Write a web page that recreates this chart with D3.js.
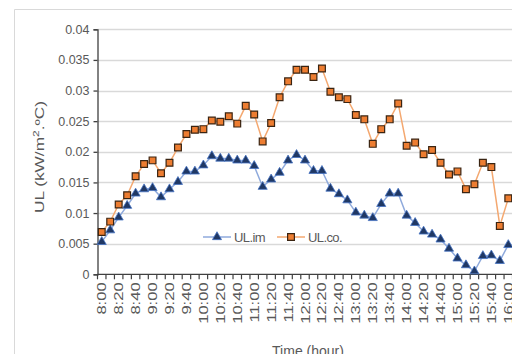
<!DOCTYPE html>
<html>
<head>
<meta charset="utf-8">
<script src="https://cdn.jsdelivr.net/npm/d3@7"></script>
<style>
  html, body { margin: 0; padding: 0; background: #fff; }
  svg { display: block; }
  text { font-family: "Liberation Sans", Arial, sans-serif; fill: #595959; }
</style>
</head>
<body>
<svg id="chart" width="512" height="354"></svg>
<script>
// Time of day, one reading every 10 minutes
const times = [
  "8:00","8:10","8:20","8:30","8:40","8:50","9:00","9:10","9:20","9:30","9:40","9:50",
  "10:00","10:10","10:20","10:30","10:40","10:50","11:00","11:10","11:20","11:30","11:40","11:50",
  "12:00","12:10","12:20","12:30","12:40","12:50","13:00","13:10","13:20","13:30","13:40","13:50",
  "14:00","14:10","14:20","14:30","14:40","14:50","15:00","15:10","15:20","15:30","15:40","15:50",
  "16:00"
];

// Heat loss coefficient, kW/m².ºC
const ulIm = [
  0.0053, 0.0072, 0.0093, 0.0112, 0.0132, 0.0139, 0.0141, 0.0126, 0.0139, 0.0151, 0.0168, 0.0168,
  0.0178, 0.0193, 0.0189, 0.0189, 0.0186, 0.0186, 0.0177, 0.0143, 0.0155, 0.0166, 0.0186, 0.0195,
  0.0186, 0.0169, 0.0169, 0.0140, 0.0131, 0.0121, 0.0101, 0.0096, 0.0092, 0.0115, 0.0132, 0.0132,
  0.0096, 0.0084, 0.0070, 0.0065, 0.0057, 0.0042, 0.0026, 0.0015, 0.0005, 0.0030, 0.0031, 0.0022,
  0.0048
];
const ulCo = [
  0.0069, 0.0086, 0.0114, 0.0129, 0.0160, 0.0180, 0.0186, 0.0165, 0.0182, 0.0207, 0.0229, 0.0236,
  0.0237, 0.0251, 0.0249, 0.0258, 0.0246, 0.0275, 0.0261, 0.0217, 0.0247, 0.0289, 0.0315, 0.0334,
  0.0334, 0.0322, 0.0336, 0.0298, 0.0289, 0.0286, 0.0260, 0.0253, 0.0213, 0.0237, 0.0253, 0.0279,
  0.0210, 0.0215, 0.0196, 0.0203, 0.0182, 0.0163, 0.0168, 0.0139, 0.0147, 0.0182, 0.0175, 0.0079,
  0.0124
];

const yTicks = [0, 0.005, 0.01, 0.015, 0.02, 0.025, 0.03, 0.035, 0.04];
const yTickLabels = ["0", "0.005", "0.01", "0.015", "0.02", "0.025", "0.03", "0.035", "0.04"];

const seriesNames = ["UL.im", "UL.co."];

const svg = d3.select("#chart");

const plot = { left: 97.5, top: 29.3, bottom: 274.3 };
const band = 8.47;
// vertical text is drawn a little elongated
const vStretch = 1.33;

const x = d3.scaleBand()
  .domain(times)
  .range([plot.left, plot.left + band * times.length])
  .padding(0);

const y = d3.scaleLinear()
  .domain([0, 0.04])
  .range([plot.bottom, plot.top]);

const cx = t => x(t) + x.bandwidth() / 2;

// Outer chart frame
svg.append("path")
  .attr("d", "M14.5,354 V9.5 H512")
  .attr("fill", "none")
  .attr("stroke", "#d9d9d9")
  .attr("stroke-width", 1);

// Horizontal gridlines
svg.append("g")
  .selectAll("line")
  .data(yTicks.slice(1))
  .join("line")
  .attr("x1", plot.left)
  .attr("x2", 512)
  .attr("y1", d => Math.round(y(d)) + 0.5)
  .attr("y2", d => Math.round(y(d)) + 0.5)
  .attr("stroke", "#d9d9d9")
  .attr("stroke-width", 1.3);

// Y axis
const yAxis = svg.append("g")
  .attr("transform", `translate(${plot.left},0)`)
  .call(d3.axisLeft(y)
    .tickValues(yTicks)
    .tickFormat((d, i) => yTickLabels[i])
    .tickSize(4)
    .tickPadding(4));
yAxis.select(".domain").attr("stroke", "#404040").attr("stroke-width", 1.3);
yAxis.selectAll(".tick line").attr("stroke", "#404040").attr("stroke-width", 1.3);
yAxis.selectAll(".tick text")
  .attr("font-size", "12.5px")
  .attr("fill", "#595959")
  .style("font-family", "'Liberation Sans', Arial, sans-serif");

// X axis: ticks between categories, label every 20 minutes
const xAxisG = svg.append("g").attr("transform", `translate(0,${plot.bottom})`);
xAxisG.append("line")
  .attr("x1", plot.left).attr("x2", 512)
  .attr("y1", 0).attr("y2", 0)
  .attr("stroke", "#404040").attr("stroke-width", 1.3);
xAxisG.selectAll("line.tk")
  .data(times.concat([null]))
  .join("line")
  .attr("class", "tk")
  .attr("x1", (d, i) => plot.left + i * x.step())
  .attr("x2", (d, i) => plot.left + i * x.step())
  .attr("y1", 0).attr("y2", 5)
  .attr("stroke", "#404040").attr("stroke-width", 1.2);
xAxisG.selectAll("text")
  .data(times.filter((d, i) => i % 2 === 0))
  .join("text")
  .attr("transform", d => `translate(${cx(d) + 4.5},${8}) rotate(-90) scale(${vStretch},1)`)
  .attr("text-anchor", "end")
  .attr("font-size", "12.5px")
  .text(d => d);

// Axis titles
svg.append("text")
  .attr("transform", `translate(44,157) rotate(-90) scale(${vStretch},1)`)
  .attr("text-anchor", "middle")
  .attr("font-size", "13px")
  .attr("fill", "#595959")
  .html('UL (kW/m<tspan dy="-5" font-size="9px">2</tspan><tspan dy="5">.ºC)</tspan>');

svg.append("text")
  .attr("x", 308)
  .attr("y", 356)
  .attr("text-anchor", "middle")
  .attr("font-size", "14px")
  .text("Time (hour)");

// Lines
const line = d3.line().x((d, i) => cx(times[i])).y(d => y(d));

svg.append("path")
  .datum(ulCo)
  .attr("fill", "none")
  .attr("stroke", "#f4a870")
  .attr("stroke-width", 1.5)
  .attr("d", line);

svg.append("path")
  .datum(ulIm)
  .attr("fill", "none")
  .attr("stroke", "#8faadc")
  .attr("stroke-width", 1.5)
  .attr("d", line);

// Markers
const tri = d3.symbol().type(d3.symbolTriangle).size(36);
const sq = d3.symbol().type(d3.symbolSquare).size(46);

svg.append("g")
  .selectAll("path")
  .data(ulIm)
  .join("path")
  .attr("transform", (d, i) => `translate(${cx(times[i])},${y(d)})`)
  .attr("d", tri)
  .attr("fill", "#203864")
  .attr("stroke", "#4472c4")
  .attr("stroke-width", 0.8);

svg.append("g")
  .selectAll("path")
  .data(ulCo)
  .join("path")
  .attr("transform", (d, i) => `translate(${cx(times[i])},${y(d)})`)
  .attr("d", sq)
  .attr("fill", "#ed7d31")
  .attr("stroke", "#3a2412")
  .attr("stroke-width", 1.2);

// Legend
const legend = svg.append("g").attr("transform", "translate(0,237)");
const legendItems = [
  { name: seriesNames[0], x0: 203, line: "#8faadc", marker: tri, fill: "#203864", stroke: "#4472c4", sw: 0.8 },
  { name: seriesNames[1], x0: 277, line: "#f4a870", marker: sq, fill: "#ed7d31", stroke: "#3a2412", sw: 1.2 }
];
legendItems.forEach(it => {
  legend.append("line")
    .attr("x1", it.x0).attr("x2", it.x0 + 28)
    .attr("y1", 0).attr("y2", 0)
    .attr("stroke", it.line).attr("stroke-width", 1.5);
  legend.append("path")
    .attr("transform", `translate(${it.x0 + 14},0)`)
    .attr("d", it.marker)
    .attr("fill", it.fill)
    .attr("stroke", it.stroke)
    .attr("stroke-width", it.sw);
  legend.append("text")
    .attr("x", it.x0 + 31)
    .attr("y", 5)
    .attr("font-size", "13px")
    .attr("letter-spacing", "-0.6")
    .text(it.name);
});
</script>
</body>
</html>
